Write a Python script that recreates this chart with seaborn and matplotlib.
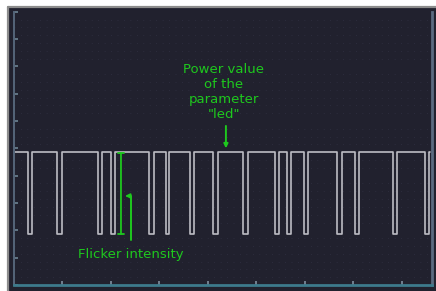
import numpy as np
import pandas as pd
import matplotlib
matplotlib.use("Agg")
import matplotlib.pyplot as plt
from matplotlib.lines import Line2D
from matplotlib.patches import Rectangle
from matplotlib.ticker import MultipleLocator
import seaborn as sns

# ---- data (time in division units, level in division units) ----
pulse_start = [0.282, 0.893, 1.738, 2.010, 2.790, 3.134, 3.629, 4.109,
               4.728, 5.388, 5.623, 5.990, 6.670, 7.041, 7.808, 8.474]
pulse_end = [0.365, 0.984, 1.814, 2.093, 2.887, 3.206, 3.718, 4.200,
             4.831, 5.470, 5.707, 6.068, 6.759, 7.124, 7.903, 8.563]
t_begin = 0.02
t_end = 8.58
level_high = 4.88
level_low = 1.87

power_label = 'Power value\nof the\nparameter\n"led"'
flicker_label = "Flicker intensity"

# build the square wave trace from the pulse edges
xs, ys = [t_begin], [level_high]
for s, e in zip(pulse_start, pulse_end):
    xs += [s, s, e, e]
    ys += [level_high, level_low, level_low, level_high]
xs.append(t_end)
ys.append(level_high)
df = pd.DataFrame({"t": xs, "v": ys, "order": range(len(xs))})

sns.set_style("dark")
plt.rcParams["font.family"] = ["DejaVu Sans"]

W, H = 436, 291
fig = plt.figure(figsize=(W / 100, H / 100), dpi=100)
fig.patch.set_facecolor("white")

dark = "#21212e"
fig.patches.append(Rectangle((8 / W, 0), 1 - 8 / W, 1 - 7 / H, transform=fig.transFigure,
                             facecolor=dark, edgecolor="none", zorder=-5))
fig.lines.append(Line2D([7.5 / W, 1], [1 - 7 / H, 1 - 7 / H], transform=fig.transFigure,
                        color="#8c8c8c", lw=1.6, zorder=-4))
fig.lines.append(Line2D([8 / W, 8 / W], [0, 1 - 7 / H], transform=fig.transFigure,
                        color="#8c8c8c", lw=1.6, zorder=-4))

ax = fig.add_axes([14 / W, 6 / H, (432 - 14) / W, (285 - 11.7) / H])
ax.set_zorder(1)
ax.set_facecolor(dark)

sns.lineplot(data=df, x="t", y="v", sort=False, estimator=None, ax=ax,
             color="#bcbcc4", lw=1.2, legend=False)

ax.set_xlim(0, 8.62)
ax.set_ylim(0, 10)
ax.xaxis.set_major_locator(MultipleLocator(1))
ax.yaxis.set_major_locator(MultipleLocator(1))
ax.yaxis.set_minor_locator(MultipleLocator(2 / 7))
ax.set_xticklabels([])
ax.set_yticklabels([])
ax.set_xlabel("")
ax.set_ylabel("")
ax.tick_params(axis="x", which="major", direction="in", length=3, width=1.2,
               color="#7f8fa0", bottom=True)
ax.tick_params(axis="y", which="major", direction="in", length=3, width=1.2,
               color="#6d8494", left=True)
ax.tick_params(which="minor", length=0)
ax.grid(False)
ax.grid(which="minor", axis="y", color="#2f2f40", lw=0.8, linestyle=(0, (0.7, 5.1)))

for side in ["top"]:
    ax.spines[side].set_visible(False)
ax.spines["left"].set_color("#55657a")
ax.spines["left"].set_linewidth(1.4)
ax.spines["bottom"].set_color("#3d7a8c")
ax.spines["bottom"].set_linewidth(2.0)
ax.spines["right"].set_color("#5b6b80")
ax.spines["right"].set_linewidth(2.0)

green = "#1ec81e"
ax.text(4.33, 7.07, power_label, color=green, fontsize=9.5, ha="center", va="center",
        linespacing=1.2)
ax.annotate("", xy=(4.37, 5.0), xytext=(4.37, 5.82),
            arrowprops=dict(arrowstyle="-|>", color=green, lw=1.4, mutation_scale=6,
                            shrinkA=0, shrinkB=0))

ax.annotate("", xy=(2.206, 4.82), xytext=(2.206, 1.87),
            arrowprops=dict(arrowstyle="|-|,widthA=0.25,widthB=0.25", color=green, lw=1.3,
                            shrinkA=0, shrinkB=0))
ax.annotate("", xy=(2.29, 3.26), xytext=(2.406, 1.646),
            arrowprops=dict(arrowstyle="-|>", color=green, lw=1.4, mutation_scale=6,
                            shrinkA=0, shrinkB=0,
                            connectionstyle="angle,angleA=90,angleB=0,rad=0"))
ax.text(2.40, 1.10, flicker_label, color=green, fontsize=9.5, ha="center", va="center")

fig.savefig("out.png", dpi=100, facecolor=fig.get_facecolor())
